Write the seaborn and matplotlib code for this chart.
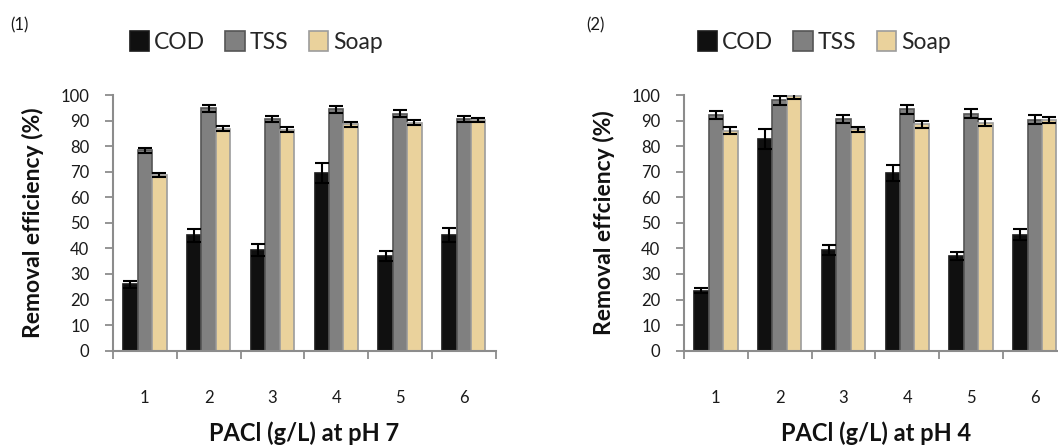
import matplotlib
matplotlib.use("Agg")
import matplotlib.pyplot as plt
from matplotlib.patches import Patch
import numpy as np
import pandas as pd
import seaborn as sns

# PACl dose levels on the x axis
doses = ["1", "2", "3", "4", "5", "6"]
parameters = ["COD", "TSS", "Soap"]

# Removal efficiency (%) at pH 7
cod_ph7 = [26.0, 45.2, 39.3, 69.4, 37.0, 45.4]
tss_ph7 = [78.4, 94.8, 90.5, 94.4, 92.7, 90.5]
soap_ph7 = [68.7, 86.8, 86.4, 88.5, 89.2, 90.2]
cod_ph7_err = [1.4, 2.5, 2.3, 3.9, 2.1, 2.7]
tss_ph7_err = [1.0, 1.3, 1.2, 1.3, 1.4, 1.1]
soap_ph7_err = [0.8, 1.0, 1.0, 1.1, 1.0, 0.9]

# Removal efficiency (%) at pH 4
cod_ph4 = [23.5, 82.8, 39.4, 69.4, 37.0, 45.4]
tss_ph4 = [92.2, 97.9, 90.5, 94.4, 92.7, 90.4]
soap_ph4 = [86.0, 99.7, 86.6, 88.5, 89.2, 90.3]
cod_ph4_err = [1.0, 4.0, 1.9, 3.2, 1.7, 2.3]
tss_ph4_err = [1.5, 1.7, 1.6, 1.7, 1.8, 1.6]
soap_ph4_err = [1.3, 1.1, 1.0, 1.3, 1.3, 1.1]

panel_labels = ["(1)", "(2)"]
x_titles = ["PACl (g/L) at pH 7", "PACl (g/L) at pH 4"]
y_titles = ["Removal efficiency (%)", "Removal effciency (%)"]

fill = {"COD": "#101010", "TSS": "#808080", "Soap": "#EAD29C"}
edge = {"COD": "#1a1a1a", "TSS": "#555555", "Soap": "#9c9c9c"}

sns.set_theme(style="white")
plt.rcParams["font.family"] = ["Lato", "DejaVu Sans"]

fig = plt.figure(figsize=(10.58, 4.45), dpi=100)
W, H = 1058, 445

def frame(values, errors):
    rows = []
    for p, vals, errs in zip(parameters, values, errors):
        for d, v, e in zip(doses, vals, errs):
            rows.append({"Dose": d, "Parameter": p, "Removal": v, "Err": e})
    return pd.DataFrame(rows)

panels = [
    (frame([cod_ph7, tss_ph7, soap_ph7], [cod_ph7_err, tss_ph7_err, soap_ph7_err]), 113, 304, 10, 256),
    (frame([cod_ph4, tss_ph4, soap_ph4], [cod_ph4_err, tss_ph4_err, soap_ph4_err]), 684, 876, 586, 824),
]

axis_grey = "#8c8c8c"
for i, (df, left_px, xlab_px, tag_px, leg_px) in enumerate(panels):
    ax = fig.add_axes([left_px / W, (H - 350.7) / H, 382.7 / W, 255.7 / H])
    sns.barplot(data=df, x="Dose", y="Removal", hue="Parameter", order=doses,
                hue_order=parameters, palette=fill, width=0.68, errorbar=None,
                saturation=1, ax=ax, legend=False)
    for p, cont in zip(parameters, ax.containers):
        errs = df.loc[df["Parameter"] == p, "Err"].to_numpy()
        xs, ys = [], []
        for bar in cont:
            bar.set_edgecolor(edge[p])
            bar.set_linewidth(1.2)
            xs.append(bar.get_x() + bar.get_width() / 2)
            ys.append(bar.get_height())
        ax.errorbar(xs, ys, yerr=errs, fmt="none", ecolor="black",
                    elinewidth=1.5, capsize=5, capthick=1.5, zorder=5)

    ax.set_xlim(-0.5, 5.5)
    ax.set_ylim(0, 100)
    ax.set_yticks(np.arange(0, 101, 10))
    ax.set_xticks(range(len(doses)))
    ax.set_xticklabels(doses)
    ax.set_xticks(np.arange(-0.5, 6.0, 1.0), minor=True)
    ax.tick_params(axis="x", which="major", length=0, pad=28, labelsize=12,
                   labelcolor="#1a1a1a")
    ax.tick_params(axis="x", which="minor", bottom=True, direction="out",
                   length=6, width=1.3, color=axis_grey)
    ax.tick_params(axis="y", which="major", left=True, direction="out",
                   length=6, width=1.3, color=axis_grey, pad=11,
                   labelsize=12, labelcolor="#1a1a1a")
    for side in ("top", "right"):
        ax.spines[side].set_visible(False)
    for side in ("left", "bottom"):
        ax.spines[side].set_color(axis_grey)
        ax.spines[side].set_linewidth(1.5)
    ax.set_xlabel("")
    ax.grid(False)

    ax.set_ylabel(y_titles[i], fontsize=16.5, fontweight="bold", color="#111111",
                  labelpad=12)
    fig.text(xlab_px / W, 1 - 433 / H, x_titles[i],
             ha="center", va="center", fontsize=17, fontweight="bold",
             color="#111111")
    fig.text(tag_px / W, 1 - 25 / H, panel_labels[i],
             ha="left", va="center", fontsize=12, color="#1a1a1a")

    handles = [Patch(facecolor=fill[p], edgecolor=edge[p], linewidth=1.2, label=p)
               for p in parameters]
    ax.legend(handles=handles, loc="center", bbox_to_anchor=(leg_px / W, 1 - 42 / H),
              bbox_transform=fig.transFigure, ncol=3, frameon=False,
              handlelength=0.85, handleheight=1.0, handletextpad=0.2,
              columnspacing=0.9, fontsize=16.5)

fig.savefig("out.png", dpi=100)
